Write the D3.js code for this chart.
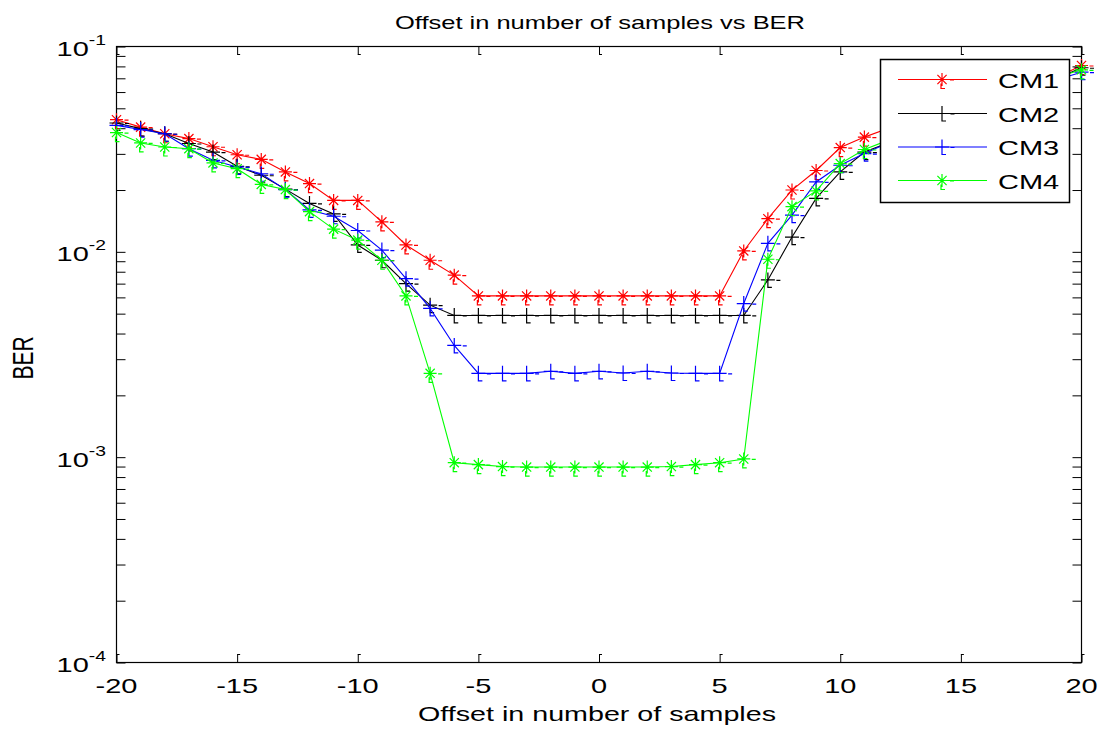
<!DOCTYPE html>
<html>
<head>
<meta charset="utf-8">
<script src="https://cdn.jsdelivr.net/npm/d3@7"></script>
<style>
  body { margin: 0; background: #fff; }
  svg { display: block; font-family: "Liberation Sans", Arial, sans-serif; }
</style>
</head>
<body>
<svg width="1101" height="729"></svg>
<script>
// offsets (x) and BER for each channel model
const offsets = [-20,-19,-18,-17,-16,-15,-14,-13,-12,-11,-10,-9,-8,-7,-6,-5,-4,-3,-2,-1,0,
                 1,2,3,4,5,6,7,8,9,10,11,12,13,14,15,16,17,18,19,20];

const cm1 = [0.0440,0.0405,0.0376,0.0356,0.0325,0.0297,0.0282,0.0245,0.0215,0.0178,0.0178,0.0140,0.0108,0.0091,0.0077,
             0.0061,0.0061,0.0061,0.0061,0.0061,0.0061,0.0061,0.0061,0.0061,0.0061,0.0061,
             0.0101,0.0145,0.0200,0.0249,0.0322,0.0362,
             0.0400,0.0440,0.0480,0.0520,0.0560,0.0610,0.0660,0.0710,0.0808];
const cm2 = [0.0424,0.0398,0.0376,0.0337,0.0306,0.0261,0.0236,0.0202,0.0172,0.0153,0.0108,0.0091,0.0070,0.0055,
             0.0049,0.0049,0.0049,0.0049,0.0049,0.0049,0.0049,0.0049,0.0049,0.0049,0.0049,0.0049,0.0049,
             0.0073,0.0118,0.0182,0.0245,0.0306,
             0.034,0.038,0.042,0.047,0.052,0.058,0.064,0.070,0.0788];
const cm3 = [0.0413,0.0394,0.0376,0.0318,0.0279,0.0259,0.0240,0.0201,0.0160,0.0149,0.0127,0.0102,0.0074,0.0053,0.0035,
             0.00256,0.00256,0.00256,0.00262,0.00256,0.00262,0.00257,0.00262,0.00257,0.00256,0.00256,
             0.0056,0.0110,0.0151,0.0219,0.0264,0.0301,
             0.034,0.038,0.042,0.047,0.052,0.058,0.063,0.069,0.0750];
const cm4 = [0.0381,0.0339,0.0324,0.0318,0.0271,0.0254,0.0213,0.0201,0.0157,0.0129,0.0114,0.0091,0.0061,0.00256,0.00094,
             0.00092,0.00090,0.000895,0.000895,0.000895,0.000895,0.000895,0.000895,0.00090,0.00092,0.00094,
             0.00098,0.0092,0.0166,0.0198,0.0269,0.0315,
             0.035,0.039,0.043,0.048,0.053,0.059,0.065,0.071,0.0770];

const seriesNames = ["CM1", "CM2", "CM3", "CM4"];
const seriesValues = [cm1, cm2, cm3, cm4];
const seriesColors = ["#ff0000", "#000000", "#0000ff", "#00ff00"];
const seriesMarkers = ["star", "plus", "plus", "star"];

const xTicks = [-20, -15, -10, -5, 0, 5, 10, 15, 20];
const yMajor = [1e-1, 1e-2, 1e-3, 1e-4];
const yExpLabels = ["-1", "-2", "-3", "-4"];

const titleText = "Offset in number of samples vs BER";
const xLabelText = "Offset in number of samples";
const yLabelText = "BER";

const svg = d3.select("svg");
const pLeft = 116.5, pRight = 1081.5, pTop = 46.5, pBottom = 662.5;
const stretch = 1.38;   // picture is widened, so glyphs are too

const x = d3.scaleLinear().domain([-20, 20]).range([pLeft, pRight]);
const y = d3.scaleLog().domain([1e-4, 1e-1]).range([pBottom, pTop]);

svg.append("rect").attr("width", 1101).attr("height", 729).attr("fill", "#fff");

// ticks (inward) on all four sides
function styleAxis(g) {
  g.select(".domain").remove();
  g.selectAll(".tick line").attr("stroke", "#000").attr("stroke-width", 1);
}
svg.append("g").attr("transform", `translate(0,${pBottom})`)
   .call(d3.axisBottom(x).tickValues(xTicks).tickSize(-8).tickFormat("")).call(styleAxis);
svg.append("g").attr("transform", `translate(0,${pTop})`)
   .call(d3.axisTop(x).tickValues(xTicks).tickSize(-8).tickFormat("")).call(styleAxis);
svg.append("g").attr("transform", `translate(${pLeft},0)`)
   .call(d3.axisLeft(y).tickValues(y.ticks()).tickSize(-9).tickFormat("")).call(styleAxis);
svg.append("g").attr("transform", `translate(${pRight},0)`)
   .call(d3.axisRight(y).tickValues(y.ticks()).tickSize(-9).tickFormat("")).call(styleAxis);

// little feet on the x ticks (artefact of the original render)
xTicks.forEach(v => {
  svg.append("path")
     .attr("d", `M${x(v)},${pBottom - 8}h3M${x(v)},${pTop + 8}h3`)
     .attr("stroke", "#000").attr("fill", "none");
});

// frame
svg.append("rect")
   .attr("x", pLeft).attr("y", pTop)
   .attr("width", pRight - pLeft).attr("height", pBottom - pTop)
   .attr("fill", "none").attr("stroke", "#000").attr("stroke-width", 1.2);

// markers
function markerPath(type) {
  if (type === "plus") {
    return "M-7,0H7M0,-7.5V7.5H4M8.5,0.5H12.5";
  }
  return "M-6.5,0H6.5M0,-6.5V6.5M-4.6,-4.6L4.6,4.6M-4.6,4.6L4.6,-4.6M-1,4V9H3M8,0.5H12";
}

const line = d3.line().x(d => x(d[0])).y(d => y(d[1]));

seriesValues.forEach((vals, i) => {
  const pts = offsets.map((o, k) => [o, vals[k]]);
  svg.append("path")
     .attr("d", line(pts))
     .attr("fill", "none")
     .attr("stroke", seriesColors[i])
     .attr("stroke-width", 1.1);
  svg.append("g").selectAll("path")
     .data(pts)
     .join("path")
     .attr("transform", d => `translate(${x(d[0])},${y(d[1])})`)
     .attr("d", markerPath(seriesMarkers[i]))
     .attr("fill", "none")
     .attr("stroke", seriesColors[i])
     .attr("stroke-width", 1.2);
});

// legend
const lg = svg.append("g");
lg.append("rect")
  .attr("x", 880.5).attr("y", 59.5).attr("width", 189).attr("height", 143)
  .attr("fill", "#fff").attr("stroke", "#000").attr("stroke-width", 1.5);
const legendY = [79.5, 113.5, 147, 180.5];
seriesNames.forEach((name, i) => {
  lg.append("line")
    .attr("x1", 898).attr("x2", 987)
    .attr("y1", legendY[i]).attr("y2", legendY[i])
    .attr("stroke", seriesColors[i]).attr("stroke-width", 1.1);
  lg.append("path")
    .attr("transform", `translate(942,${legendY[i]})`)
    .attr("d", markerPath(seriesMarkers[i]))
    .attr("fill", "none").attr("stroke", seriesColors[i]).attr("stroke-width", 1.2);
  lg.append("g")
    .attr("transform", `translate(998,${legendY[i] + 8})scale(${stretch},1)`)
    .append("text")
    .attr("font-size", 21)
    .attr("fill", "#000")
    .text(name);
});

// x tick labels
xTicks.forEach(v => {
  svg.append("g")
     .attr("transform", `translate(${x(v)},693)scale(${stretch},1)`)
     .append("text")
     .attr("text-anchor", "middle")
     .attr("font-size", 21)
     .text(v);
});

// y tick labels, 10 with exponent
yMajor.forEach((v, i) => {
  const t = svg.append("g")
     .attr("transform", `translate(106,${y(v) + 9.5})scale(${stretch},1)`)
     .append("text")
     .attr("text-anchor", "end")
     .attr("font-size", 21);
  t.append("tspan").text("10");
  t.append("tspan").attr("font-size", 14).attr("dy", -11).text(yExpLabels[i]);
});

// title and axis labels
svg.append("text")
   .attr("x", 600).attr("y", 29)
   .attr("text-anchor", "middle")
   .attr("font-size", 19)
   .attr("textLength", 410).attr("lengthAdjust", "spacingAndGlyphs")
   .text(titleText);

svg.append("text")
   .attr("x", 597).attr("y", 721)
   .attr("text-anchor", "middle")
   .attr("font-size", 21)
   .attr("textLength", 358).attr("lengthAdjust", "spacingAndGlyphs")
   .text(xLabelText);

svg.append("g")
   .attr("transform", `translate(33,358)scale(${stretch},1)rotate(-90)`)
   .append("text")
   .attr("text-anchor", "middle")
   .attr("font-size", 21)
   .text(yLabelText);
</script>
</body>
</html>
